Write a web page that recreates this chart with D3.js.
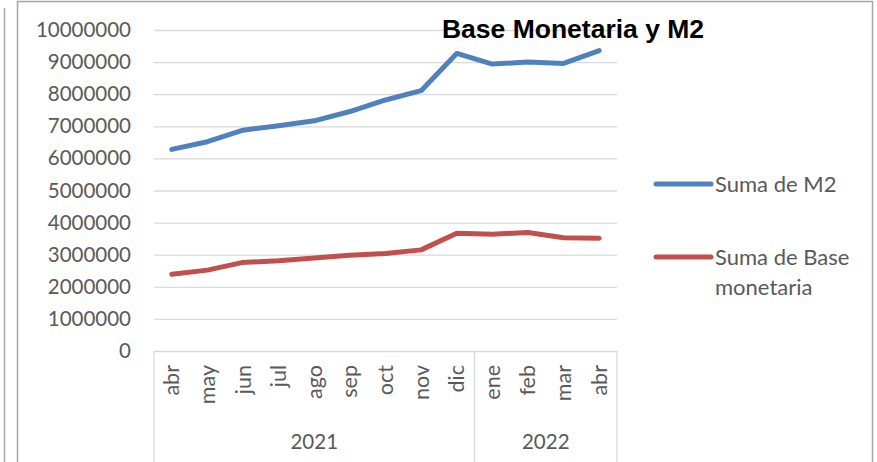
<!DOCTYPE html>
<html>
<head>
<meta charset="utf-8">
<script src="https://cdn.jsdelivr.net/npm/d3@7"></script>
<style>
  body { margin: 0; background: #fff; }
  svg { display: block; }
</style>
</head>
<body>
<div id="chart"></div>
<script>
const canvas_w  =   877;
const canvas_h  =   462;

// data
const months    =   [ 'abr', 'may', 'jun', 'jul', 'ago', 'sep', 'oct', 'nov', 'dic', 'ene', 'feb', 'mar', 'abr' ];
const years     =   [ '2021', '2022' ];
const yearCount =   [ 9, 4 ];
const m2        =   [ 6280000, 6520000, 6880000, 7020000, 7170000, 7460000, 7820000, 8110000, 9270000, 8940000, 9000000, 8960000, 9360000 ];
const base      =   [ 2390000, 2520000, 2760000, 2810000, 2900000, 2980000, 3040000, 3150000, 3670000, 3640000, 3690000, 3530000, 3510000 ];
const yTicks    =   [ 0, 1000000, 2000000, 3000000, 4000000, 5000000, 6000000, 7000000, 8000000, 9000000, 10000000 ];

const series    =   [
    { name: [ 'Suma de M2' ], values: m2, colour: '#4F81BD' },
    { name: [ 'Suma de Base', 'monetaria' ], values: base, colour: '#C0504D' }
];

const plot      =   { left: 154, right: 617, top: 30, bottom: 351 };
const textFont  =   'Lato, "Open Sans", sans-serif';
const textCol   =   '#595959';
const gridCol   =   '#d9d9d9';

let svg         =   d3.select( '#chart' )
                      .append( 'svg' )
                      .attr( 'width', canvas_w )
                      .attr( 'height', canvas_h );

svg.append( 'rect' )
   .attr( 'width', canvas_w )
   .attr( 'height', canvas_h )
   .attr( 'fill', '#fff' );

// frame lines
svg.append( 'line' )
   .attr( 'x1', 4.5 ).attr( 'x2', 4.5 )
   .attr( 'y1', 8 ).attr( 'y2', canvas_h )
   .attr( 'stroke', '#a6a6a6' ).attr( 'stroke-width', 1.5 );
svg.append( 'path' )
   .attr( 'd', `M17.5,${canvas_h} V1.5 H872.5 V${canvas_h}` )
   .attr( 'fill', 'none' )
   .attr( 'stroke', '#a6a6a6' ).attr( 'stroke-width', 1.5 );

let x           =   d3.scaleBand()
                          .domain( d3.range( months.length ) )
                          .range( [ plot.left, plot.right ] )
                          .padding( 0 );
const cx        =   i => x( i ) + x.bandwidth() / 2;

let y           =   d3.scaleLinear()
                          .domain( [ 0, 10000000 ] )
                          .range( [ plot.bottom, plot.top ] );

// gridlines
svg.append( 'g' )
   .attr( 'transform', `translate(${plot.left},0)` )
   .call( d3.axisLeft( y ).tickValues( yTicks ).tickSize( -( plot.right - plot.left ) ).tickFormat( '' ) )
   .call( g => g.select( '.domain' ).remove() )
   .call( g => g.selectAll( 'line' ).attr( 'stroke', gridCol ).attr( 'stroke-width', 1.3 ) );

// y labels
svg.append( 'g' )
   .attr( 'transform', `translate(${plot.left},0)` )
   .call( d3.axisLeft( y ).tickValues( yTicks ).tickSize( 0 ).tickPadding( 23 ).tickFormat( d3.format( 'd' ) ) )
   .call( g => g.select( '.domain' ).remove() )
   .call( g => g.selectAll( 'text' )
                .attr( 'fill', textCol )
                .style( 'font-family', textFont )
                .style( 'font-size', '20.5px' ) );

// category box: separators between the years
let bounds      =   [ 0 ];
yearCount.forEach( ( c, i ) => bounds.push( bounds[ i ] + c ) );
const edgeX     =   k => k < months.length ? x( k ) : x( months.length - 1 ) + x.bandwidth();

svg.append( 'g' )
   .selectAll( 'line' )
   .data( bounds )
   .enter()
   .append( 'line' )
   .attr( 'x1', d => edgeX( d ) ).attr( 'x2', d => edgeX( d ) )
   .attr( 'y1', plot.bottom ).attr( 'y2', canvas_h )
   .attr( 'stroke', gridCol ).attr( 'stroke-width', 1.3 );

// month labels
svg.append( 'g' )
   .selectAll( 'text' )
   .data( months )
   .enter()
   .append( 'text' )
   .attr( 'transform', ( d, i ) => `translate(${cx( i )},365) rotate(-90)` )
   .attr( 'dy', '0.35em' )
   .attr( 'text-anchor', 'end' )
   .attr( 'fill', textCol )
   .style( 'font-family', textFont )
   .style( 'font-size', '21.5px' )
   .text( d => d );

// year labels
svg.append( 'g' )
   .selectAll( 'text' )
   .data( years )
   .enter()
   .append( 'text' )
   .attr( 'x', ( d, i ) => ( edgeX( bounds[ i ] ) + edgeX( bounds[ i + 1 ] ) ) / 2 )
   .attr( 'y', 449 )
   .attr( 'text-anchor', 'middle' )
   .attr( 'fill', textCol )
   .style( 'font-family', textFont )
   .style( 'font-size', '20.5px' )
   .text( d => d );

// lines
let line        =   d3.line()
                          .x( ( d, i ) => cx( i ) )
                          .y( d => y( d ) );

svg.append( 'g' )
   .selectAll( 'path' )
   .data( series )
   .enter()
   .append( 'path' )
   .attr( 'd', d => line( d.values ) )
   .attr( 'fill', 'none' )
   .attr( 'stroke', d => d.colour )
   .attr( 'stroke-width', 5 )
   .attr( 'stroke-linejoin', 'round' )
   .attr( 'stroke-linecap', 'round' );

// title
svg.append( 'text' )
   .attr( 'x', 573 )
   .attr( 'y', 38 )
   .attr( 'text-anchor', 'middle' )
   .attr( 'fill', '#000' )
   .style( 'font-family', '"Liberation Sans", Arial, sans-serif' )
   .style( 'font-weight', 'bold' )
   .style( 'font-size', '26.5px' )
   .text( 'Base Monetaria y M2' );

// legend
const legendY   =   [ 184, 257 ];
let legend      =   svg.append( 'g' )
                       .selectAll( 'g' )
                       .data( series )
                       .enter()
                       .append( 'g' )
                       .attr( 'transform', ( d, i ) => `translate(0,${legendY[ i ]})` );

legend.append( 'line' )
      .attr( 'x1', 656 ).attr( 'x2', 711 )
      .attr( 'stroke', d => d.colour )
      .attr( 'stroke-width', 5 )
      .attr( 'stroke-linecap', 'round' );

legend.append( 'text' )
      .attr( 'x', 715 )
      .attr( 'fill', textCol )
      .style( 'font-family', textFont )
      .style( 'font-size', '22px' )
      .selectAll( 'tspan' )
      .data( d => d.name )
      .enter()
      .append( 'tspan' )
      .attr( 'x', 715 )
      .attr( 'y', ( d, i ) => i * 30 )
      .attr( 'dy', '0.35em' )
      .text( d => d );
</script>
</body>
</html>
